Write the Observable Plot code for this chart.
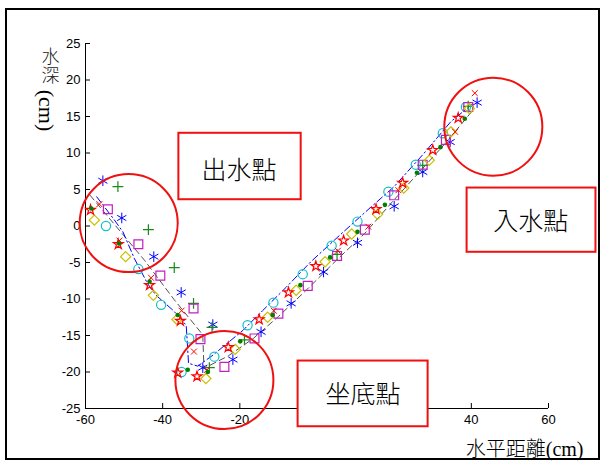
<!DOCTYPE html>
<html><head><meta charset="utf-8">
<script src="https://cdn.jsdelivr.net/npm/d3@7"></script>
<script src="https://cdn.jsdelivr.net/npm/@observablehq/plot@0.6"></script>
<style>
body{margin:0;background:#fff;}
#wrap{position:relative;width:602px;height:462px;overflow:hidden;background:#fff}
#border{position:absolute;left:5px;top:8px;width:595px;height:452px;box-sizing:border-box;border:2px solid #000;pointer-events:none}
</style></head><body><div id="wrap"><div id="chart"></div><div id="border"></div></div>
<script>
// ticks
const xTicks = [-60, -40, -20, 0, 20, 40, 60];
const yTicks = [-25, -20, -15, -10, -5, 0, 5, 10, 15, 20, 25];

// blue asterisks
const astX = [-55.5, -50.6, -42.3, -35.2, -27.0, -29.6, -21.8, -14.5, -6.7, 1.7, 10.5, 20.0, 27.4, 34.5, 41.5];
const astY = [6.2, 1.1, -4.2, -9.1, -13.5, -19.4, -18.3, -14.5, -10.6, -6.3, -2.3, 2.7, 7.4, 11.5, 16.9];
// green plus
const plusX = [-51.6, -43.7, -37.0, -32.0, -27.2, -27.9, -18.8, 5.2, 27.4, 39.2];
const plusY = [5.4, -0.5, -5.7, -10.6, -13.9, -19.4, -15.6, -3.9, 8.3, 16.4];
// cyan circles
const circX = [-54.7, -46.3, -40.4, -33.1, -35.1, -26.6, -18.0, -11.3, -3.7, 3.8, 10.5, 18.5, 25.6, 32.6, 38.6];
const circY = [0.0, -5.9, -10.8, -15.4, -20.0, -17.9, -13.6, -10.5, -6.6, -2.7, 0.6, 4.7, 8.4, 12.7, 16.3];
// magenta squares
const sqX = [-54.2, -46.3, -40.6, -32.0, -30.2, -24.0, -16.2, -10.0, -2.4, 5.2, 12.4, 20.0, 27.4, 33.4, 39.2];
const sqY = [2.3, -2.5, -6.8, -11.3, -15.5, -19.3, -15.4, -12.0, -8.2, -4.1, -0.5, 4.2, 8.4, 11.8, 16.3];
// yellow diamonds
const diaX = [-57.7, -49.6, -42.4, -36.3, -28.8, -21.2, -12.8, -5.4, 2.1, 9.0, 15.7, 22.5, 29.1, 34.7, 39.5];
const diaY = [0.8, -4.2, -9.5, -12.8, -20.9, -16.9, -12.5, -8.8, -4.9, -1.1, 1.6, 5.2, 9.0, 12.9, 16.1];
// red crosses
const crossX = [-56.4, -51.2, -43.0, -35.1, -31.9, -28.5, -11.2, 5.4, 13.3, 21.1, 35.8, 40.9];
const crossY = [3.0, -2.0, -7.1, -11.6, -17.2, -19.7, -11.6, -3.4, -0.1, 4.9, 12.9, 18.2];
// red pentagrams
const starX = [-58.7, -51.5, -43.4, -35.4, -36.1, -31.1, -23.0, -15.0, -7.4, -0.3, 6.9, 15.3, 22.2, 30.0, 36.6];
const starY = [2.2, -2.5, -8.1, -13.0, -20.1, -20.6, -16.6, -12.8, -9.1, -5.5, -2.0, 2.3, 5.9, 10.4, 14.8];
// green dots
const gdotX = [-58.5, -51.3, -43.4, -36.1, -33.5, -28.3, -19.9, -11.5, -4.3, 3.4, 10.5, 17.6, 25.9, 32.0, 38.3];
const gdotY = [2.4, -2.4, -7.6, -12.2, -19.7, -20.0, -15.8, -12.2, -8.1, -4.3, -0.8, 2.9, 7.3, 10.8, 14.7];
// gray dashed profile
const grayX = [-58.8, -44.7, -37.0, -29.6, -29.3, -23.0, -16.5, -10.0, -2.4, 5.2, 12.4, 20.0, 27.4, 33.4, 40.3];
const grayY = [4.2, -4.7, -10.1, -14.9, -19.5, -17.8, -15.4, -12.4, -8.6, -4.6, -1.0, 3.6, 7.9, 11.4, 15.8];
// blue dash-dot profile
const bluX = [-57.1, -52.9, -50.3, -47.3, -43.9, -41.7, -37.2, -33.9, -33.5, -33.3, -30.9, -27.0, -19.2, -14.1, -8.0, -1.6, 5.4, 12.3, 20.0, 27.8, 34.7, 40.5];
const bluY = [4.0, 1.1, -0.8, -4.5, -7.9, -9.5, -11.6, -13.6, -17.0, -18.8, -19.2, -17.7, -14.3, -11.6, -8.4, -4.9, -1.5, 1.8, 5.4, 10.0, 14.3, 16.8];

// annotations (data coordinates)
const annoText = ["出水點", "入水點", "坐底點"];
const annoX = [-20.2, 55.4, 11.9];
const annoY = [7.6, 0.6, -23.2];
const boxX1 = [-35.8, 38.9, -4.9];
const boxX2 = [-4.1, 72.3, 28.8];
const boxY1 = [3.6, -3.6, -27.5];
const boxY2 = [12.7, 5.2, -18.5];
const ringX = [-48.8, -24.0, 45.7];
const ringY = [0.4, -21.1, 13.6];

const zip = (xs, ys) => xs.map((x, i) => ({x, y: ys[i]}));
const annos = annoText.map((t, i) => ({t, x: annoX[i], y: annoY[i], x1: boxX1[i], x2: boxX2[i], y1: boxY1[i], y2: boxY2[i]}));
const rings = zip(ringX, ringY);

const series = [
  {xs: astX, ys: astY, symbol: "asterisk", color: "#0000ff", r: 5, fill: false, sw: 1},
  {xs: plusX, ys: plusY, symbol: "plus", color: "#1a8a1a", r: 3.6, fill: false, sw: 1.2},
  {xs: circX, ys: circY, symbol: "circle", color: "#10c0c8", r: 4.6, fill: false, sw: 1.2},
  {xs: sqX, ys: sqY, symbol: "square", color: "#c020c0", r: 5, fill: false, sw: 1.2},
  {xs: diaX, ys: diaY, symbol: "diamond2", color: "#c8c000", r: 4.6, fill: false, sw: 1.2},
  {xs: crossX, ys: crossY, symbol: "times", color: "#ff0000", r: 2.8, fill: false, sw: 1},
  {xs: starX, ys: starY, symbol: "star", color: "#ff0000", r: 3.1, fill: false, sw: 1.2},
  {xs: gdotX, ys: gdotY, symbol: "circle", color: "#008000", r: 2.3, fill: true, sw: 0}
];

const fmt = d => String(d);
const cjk = "'Noto Sans CJK TC', sans-serif";
const yTitle = "水深";
const chart = Plot.plot({
  width: 602, height: 462,
  marginLeft: 85, marginRight: 54, marginTop: 43, marginBottom: 54,
  x: {domain: [-60, 60], label: null},
  y: {domain: [-25, 25], label: null},
  style: {fontFamily: "'Liberation Sans', Arial, sans-serif", fontSize: "13px", background: "white", color: "black", overflow: "visible"},
  marks: [
    Plot.ruleX([-60], {stroke: "black", strokeWidth: 1}),
    Plot.ruleY([-25], {stroke: "black", strokeWidth: 1}),
    Plot.axisX(xTicks, {tickSize: 5, dy: -5, tickFormat: () => "", label: null}),
    Plot.axisY(yTicks, {tickSize: 5, dx: 5, tickFormat: () => "", label: null}),
    Plot.axisX(xTicks, {tickSize: 0, tickPadding: 6, tickFormat: fmt, label: null, fontSize: 13}),
    Plot.axisY(yTicks, {tickSize: 0, tickPadding: 5, tickFormat: fmt, label: null, fontSize: 13}),
    Plot.line(zip(grayX, grayY), {x: "x", y: "y", stroke: "#505050", strokeWidth: 1, strokeDasharray: "6,4"}),
    Plot.line(zip(bluX, bluY), {x: "x", y: "y", stroke: "#0000ff", strokeWidth: 1, strokeDasharray: "7,3,1.5,3"}),
    ...series.map(s => Plot.dot(zip(s.xs, s.ys), s.fill
      ? {x: "x", y: "y", symbol: s.symbol, r: s.r, fill: s.color, stroke: "none"}
      : {x: "x", y: "y", symbol: s.symbol, r: s.r, fill: "none", stroke: s.color, strokeWidth: s.sw})),
    Plot.dot(rings, {x: "x", y: "y", r: 49, fill: "none", stroke: "#f01010", strokeWidth: 2}),
    Plot.rect(annos, {x1: "x1", x2: "x2", y1: "y1", y2: "y2", fill: "white", stroke: "#f01010", strokeWidth: 2}),
    Plot.text(annos, {x: "x", y: "y", text: "t", fontSize: 25, fontFamily: cjk, fontWeight: 300, fill: "black"}),
    Plot.text(["水平距離(cm)"], {frameAnchor: "bottom-right", text: d => d, textAnchor: "end", lineAnchor: "middle", dx: 35, dy: 41, fontSize: 20, fontFamily: "'Liberation Serif', 'Noto Sans CJK TC', serif", fontWeight: 300, fill: "black"}),
    Plot.text([yTitle], {frameAnchor: "top-left", text: d => d, textAnchor: "middle", lineAnchor: "middle", dx: -35, dy: 17, fontSize: 18, fontFamily: cjk, fontWeight: 300, fill: "#222"}),
    Plot.text(["(cm)"], {frameAnchor: "top-left", text: d => d, textAnchor: "middle", lineAnchor: "middle", dx: -39, dy: 67, rotate: 90, fontSize: 22, fontFamily: "'Liberation Serif', serif", fill: "black"})
  ]
});
// stack the y title vertically as a single text run
for (const t of chart.querySelectorAll("text")) {
  if (t.textContent === yTitle) {
    t.removeAttribute("dy");
    t.setAttribute("writing-mode", "vertical-rl");
    t.style.writingMode = "vertical-rl";
    t.style.textOrientation = "upright";
    t.style.letterSpacing = "1px";
  }
}
document.getElementById("chart").appendChild(chart);
</script></body></html>
